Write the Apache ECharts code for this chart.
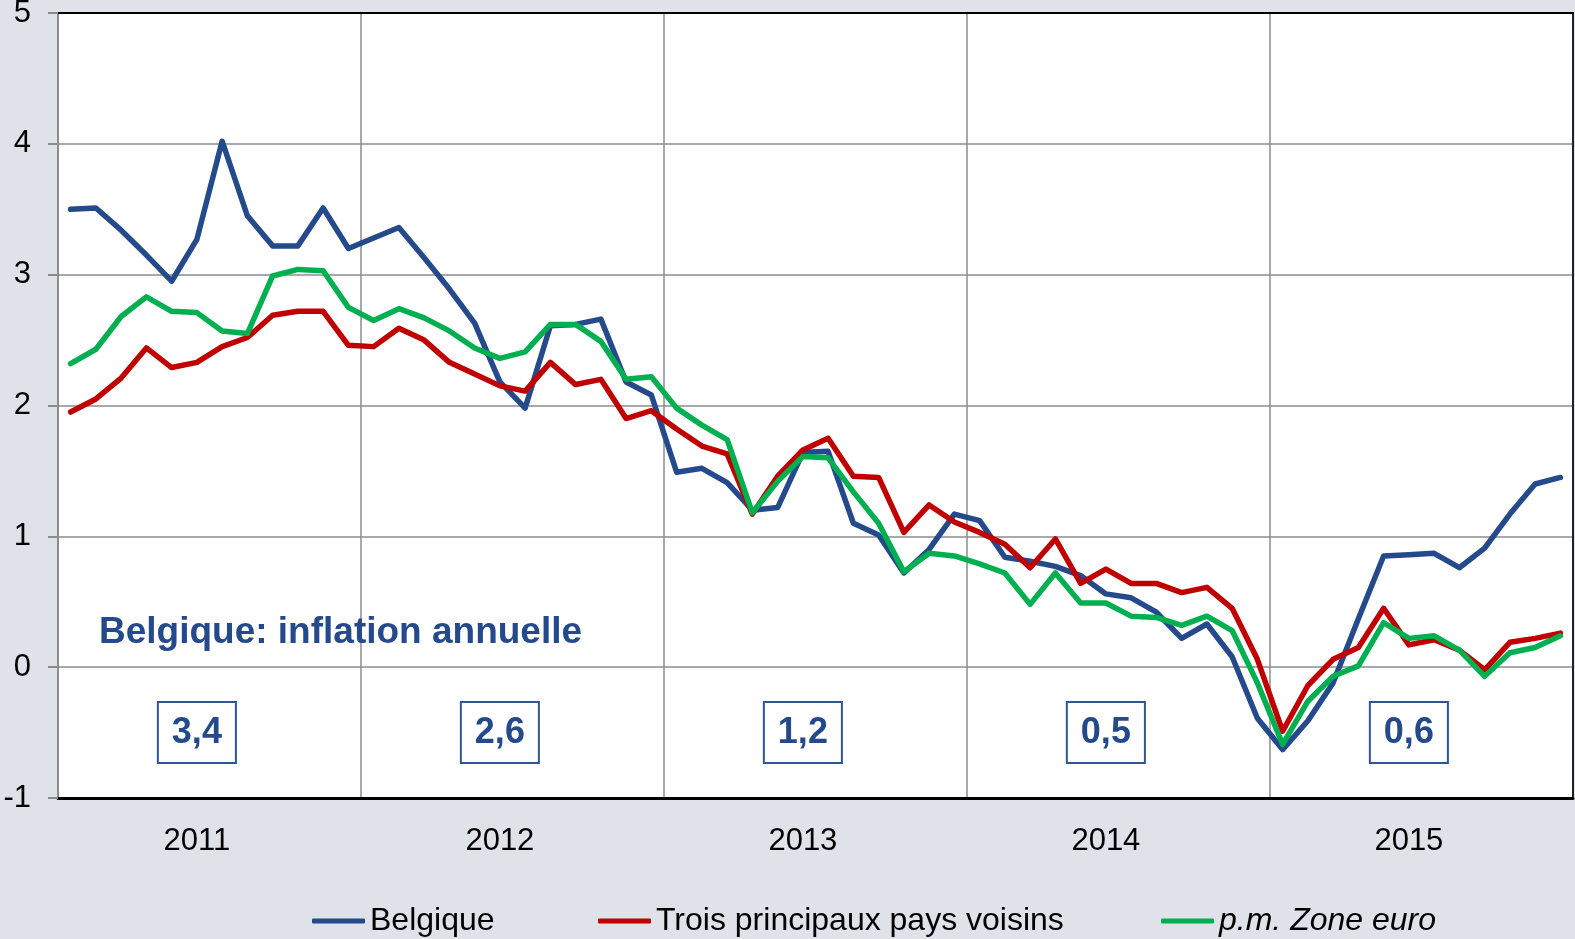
<!DOCTYPE html>
<html>
<head>
<meta charset="utf-8">
<title>Belgique: inflation annuelle</title>
<script src="https://cdn.jsdelivr.net/npm/echarts@6/dist/echarts.min.js"></script>
<style>
  html, body { margin: 0; padding: 0; background: #dfe2e8; }
  #chart { width: 1575px; height: 939px; }
</style>
</head>
<body>
<div id="chart"></div>
<script>
const years = ['2011', '2012', '2013', '2014', '2015']
// un point par mois, janv. 2011 -> déc. 2015
const months = []
years.forEach((y) => {
  for (let m = 1; m <= 12; m++) months.push(y + '-' + String(m).padStart(2, '0'))
})

const belgique = [
  3.50, 3.51, 3.34, 3.15, 2.95, 3.27, 4.02, 3.45, 3.22, 3.22, 3.51, 3.20,
  3.28, 3.36, 3.13, 2.89, 2.63, 2.18, 1.98, 2.61, 2.62, 2.66, 2.18, 2.08,
  1.49, 1.52, 1.41, 1.20, 1.22, 1.64, 1.65, 1.10, 1.01, 0.72, 0.90, 1.17,
  1.12, 0.84, 0.81, 0.77, 0.70, 0.56, 0.53, 0.42, 0.22, 0.33, 0.08, -0.39,
  -0.63, -0.41, -0.12, 0.37, 0.85, 0.86, 0.87, 0.76, 0.91, 1.17, 1.40, 1.45
]
const troisPays = [
  1.95, 2.05, 2.21, 2.44, 2.29, 2.33, 2.45, 2.52, 2.69, 2.72, 2.72, 2.46,
  2.45, 2.59, 2.50, 2.33, 2.24, 2.15, 2.11, 2.33, 2.16, 2.20, 1.90, 1.96,
  1.82, 1.69, 1.63, 1.17, 1.46, 1.66, 1.75, 1.46, 1.45, 1.03, 1.24, 1.11,
  1.03, 0.94, 0.76, 0.98, 0.64, 0.75, 0.64, 0.64, 0.57, 0.61, 0.45, 0.06,
  -0.49, -0.14, 0.06, 0.15, 0.45, 0.17, 0.21, 0.13, -0.02, 0.19, 0.22, 0.26
]
const zoneEuro = [
  2.32, 2.43, 2.68, 2.83, 2.72, 2.71, 2.57, 2.55, 2.99, 3.04, 3.03, 2.75,
  2.65, 2.74, 2.67, 2.57, 2.44, 2.36, 2.41, 2.62, 2.62, 2.49, 2.20, 2.22,
  1.98, 1.85, 1.74, 1.18, 1.42, 1.61, 1.60, 1.34, 1.10, 0.73, 0.87, 0.85,
  0.79, 0.72, 0.48, 0.72, 0.49, 0.49, 0.39, 0.38, 0.32, 0.39, 0.28, -0.12,
  -0.59, -0.26, -0.07, 0.01, 0.34, 0.22, 0.24, 0.13, -0.07, 0.11, 0.15, 0.24
]
// moyennes annuelles (Belgique)
const moyennes = ['3,4', '2,6', '1,2', '0,5', '0,6']

const font = "'Liberation Sans', Arial, sans-serif"
const blue = '#254a8b'
const red = '#c00000'
const green = '#00b050'
const gridColor = '#8c8c8c'

const legendBase = {
  top: 905,
  padding: 0,
  itemWidth: 53,
  itemHeight: 5,
  icon: 'roundRect',
  textStyle: { fontSize: 32, color: '#000', fontFamily: font }
}

const chart = echarts.init(document.getElementById('chart'))
const option = {
  backgroundColor: '#dfe2e8',
  animation: false,
  textStyle: { fontFamily: font },
  title: {
    text: 'Belgique: inflation annuelle',
    left: 99,
    top: 614,
    padding: 0,
    textStyle: { fontSize: 37, fontWeight: 'bold', color: blue, fontFamily: font }
  },
  legend: [
    { ...legendBase, left: 312, data: ['Belgique'] },
    { ...legendBase, left: 598, data: ['Trois principaux pays voisins'] },
    { ...legendBase, left: 1161, data: [{ name: 'p.m. Zone euro', textStyle: { fontStyle: 'italic' } }] }
  ],
  grid: {
    left: 58,
    right: 2,
    top: 13,
    bottom: 141,
    show: true,
    backgroundColor: '#fff',
    borderWidth: 0,
    containLabel: false,
    outerBoundsMode: 'none'
  },
  xAxis: [
    {
      type: 'category',
      data: months,
      boundaryGap: true,
      position: 'bottom',
      axisLine: { onZero: false, lineStyle: { color: '#000', width: 3 } },
      axisTick: { show: false },
      axisLabel: {
        interval: (i) => i % 12 === 5,
        formatter: (v) => v.slice(0, 4),
        fontSize: 31,
        color: '#000',
        margin: 28
      },
      splitLine: {
        show: true,
        interval: (i) => i % 12 === 0 && i > 0,
        lineStyle: { color: gridColor, width: 1.5 }
      }
    },
    {
      type: 'category',
      data: months,
      position: 'top',
      axisLine: { onZero: false, lineStyle: { color: '#000', width: 2 } },
      axisTick: { show: false },
      axisLabel: { show: false },
      splitLine: { show: false }
    }
  ],
  yAxis: [
    {
      type: 'value',
      min: -1,
      max: 5,
      interval: 1,
      axisLine: { show: true, onZero: false, lineStyle: { color: gridColor, width: 2 } },
      axisTick: { show: true, length: 10, lineStyle: { color: gridColor, width: 2 } },
      axisLabel: { fontSize: 31, color: '#000', margin: 27 },
      splitLine: { lineStyle: { color: gridColor, width: 1.5 } }
    },
    {
      type: 'value',
      position: 'right',
      min: -1,
      max: 5,
      interval: 1,
      axisLine: { show: true, onZero: false, lineStyle: { color: '#222', width: 2 } },
      axisTick: { show: false },
      axisLabel: { show: false },
      splitLine: { show: false }
    }
  ],
  series: [
    {
      name: 'Belgique',
      type: 'line',
      data: belgique,
      symbol: 'none',
      color: blue,
      lineStyle: { width: 5.5, cap: 'round', join: 'round' }
    },
    {
      name: 'Trois principaux pays voisins',
      type: 'line',
      data: troisPays,
      symbol: 'none',
      color: red,
      lineStyle: { width: 5.5, cap: 'round', join: 'round' }
    },
    {
      name: 'p.m. Zone euro',
      type: 'line',
      data: zoneEuro,
      symbol: 'none',
      color: green,
      lineStyle: { width: 5.5, cap: 'round', join: 'round' }
    },
    {
      // encadrés des moyennes annuelles, au milieu de chaque année
      name: 'moyennes',
      type: 'scatter',
      silent: true,
      symbolSize: 1,
      itemStyle: { color: 'transparent', opacity: 1 },
      data: moyennes.map((v, i) => [i * 12 + 5, -0.5]),
      label: {
        show: true,
        position: 'inside',
        formatter: (p) => moyennes[p.dataIndex],
        fontSize: 36,
        fontWeight: 'bold',
        color: blue,
        opacity: 1,
        backgroundColor: '#fff',
        borderColor: '#2f5597',
        borderWidth: 2,
        padding: [15, 13, 8, 13]
      },
      z: 5
    }
  ]
}
option && chart.setOption(option)
</script>
</body>
</html>
